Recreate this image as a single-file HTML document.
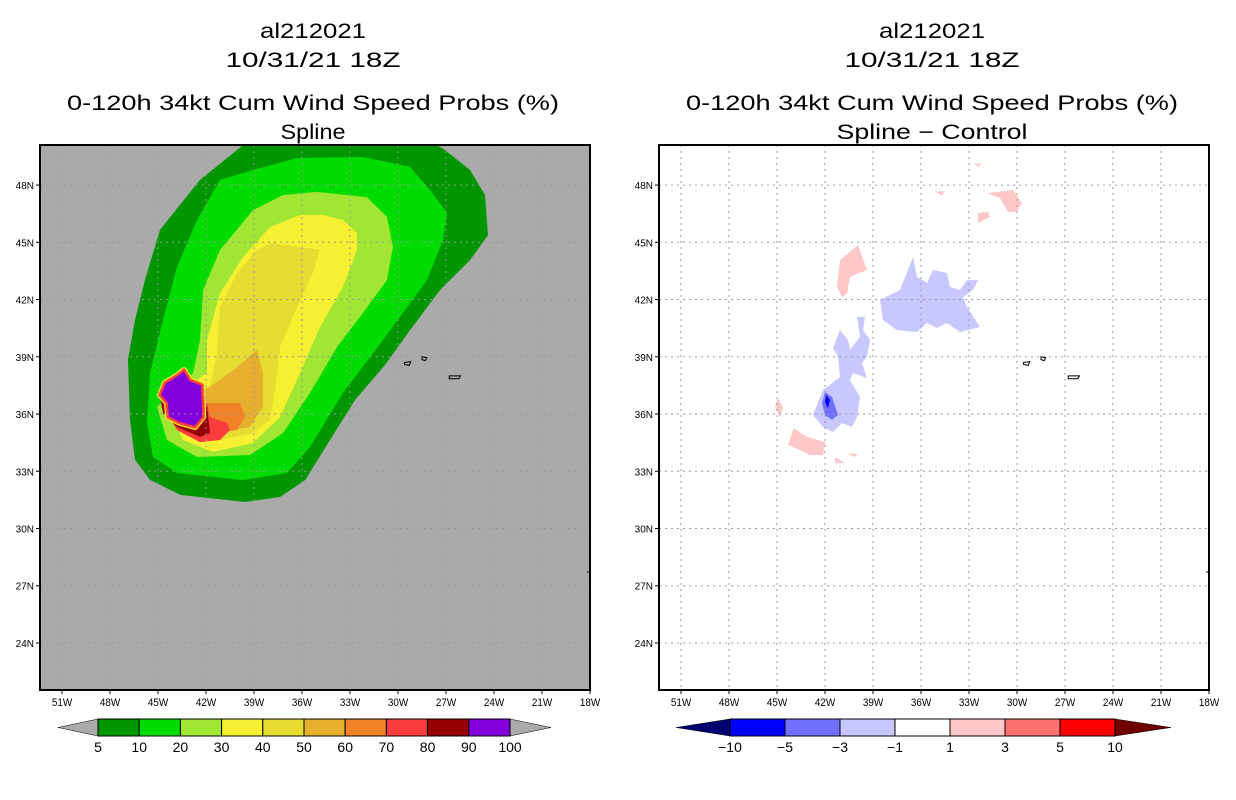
<!DOCTYPE html>
<html><head><meta charset="utf-8"><style>
html,body{margin:0;padding:0;background:#fff;}
svg{display:block;font-family:"Liberation Sans",sans-serif;}
</style></head><body>
<svg id="fig" width="1236" height="800" viewBox="0 0 1236 800"></svg>
<script>
// ---- data ----
const lonTicks = [-51,-48,-45,-42,-39,-36,-33,-30,-27,-24,-21,-18];
const lonLabels = ["51W","48W","45W","42W","39W","36W","33W","30W","27W","24W","21W","18W"];
const latTicks = [24,27,30,33,36,39,42,45,48];
const latLabels = ["24N","27N","30N","33N","36N","39N","42N","45N","48N"];
const probLevels = ["5","10","20","30","40","50","60","70","80","90","100"];
const probColors = ["#009600","#00dc00","#a0e632","#f5f032","#e6dc32","#e6af2d","#f08228","#fa3c3c","#960000","#8200dc"];
const diffLevels = ["-10","-5","-3","-1","1","3","5","10"];
const diffColors = ["#0000ff","#7070ff","#c8c8ff","#ffffff","#ffc8c8","#ff7070","#ff0000"];
const p5 = [[-38.94,50.6],[-42.375,48.27],[-44.875,45.65],[-45.81,43.03],[-46.44,40.93],[-46.875,38.84],[-46.75,35.69],[-46.44,33.6],[-45.5,32.55],[-43.6,31.76],[-39.56,31.39],[-37.375,31.65],[-35.8,32.54],[-34.25,34.64],[-32.69,36.74],[-30.81,38.57],[-29.25,40.4],[-27.375,42.5],[-25.5,44.07],[-24.375,45.38],[-24.56,47.48],[-25.5,48.79],[-27.06,49.84],[-28.625,50.6]];
const p10 = [[-39.06,48.79],[-36.31,49.42],[-32.19,49.47],[-29.25,48.95],[-28.0,47.74],[-26.94,46.54],[-27.19,45.12],[-28.19,43.02],[-30.94,39.88],[-33.44,37.1],[-35.5,34.27],[-36.94,32.91],[-39.69,32.54],[-43.81,32.91],[-45.31,33.75],[-45.69,35.53],[-45.5,38.15],[-44.69,40.93],[-43.81,43.71],[-42.56,46.17],[-41.125,48.27]];
const p20 = [[-39.06,46.69],[-41.125,44.6],[-42.19,42.5],[-42.375,39.88],[-42.81,38.15],[-45.06,36.37],[-44.44,34.64],[-42.56,33.75],[-39.25,33.85],[-37.19,35.0],[-35.5,37.1],[-33.81,39.51],[-32.19,41.3],[-30.69,43.02],[-30.31,44.75],[-30.69,46.33],[-31.94,47.37],[-35.06,47.64],[-37.19,47.48]];
const p30 = [[-36.125,46.43],[-38.0,45.8],[-39.69,44.23],[-41.125,42.34],[-41.94,39.88],[-41.94,38.15],[-42.81,37.63],[-44.25,36.05],[-43.44,34.64],[-41.56,34.01],[-39.06,34.48],[-37.375,35.84],[-36.125,38.15],[-34.875,40.56],[-33.44,42.66],[-32.56,44.6],[-32.56,45.49],[-33.44,46.17],[-34.69,46.43]];
const p40 = [[-37.94,44.96],[-34.875,44.6],[-35.31,43.39],[-36.31,41.61],[-37.375,39.51],[-37.69,37.26],[-38.0,35.69],[-39.06,35.0],[-41.125,34.64],[-43.44,35.32],[-44.25,36.58],[-41.75,37.42],[-41.31,39.2],[-41.125,41.61],[-40.06,43.39],[-38.81,44.6]];
const p50 = [[-38.81,39.36],[-38.44,38.15],[-38.44,36.37],[-39.25,35.32],[-41.75,35.0],[-43.81,35.84],[-43.81,36.74],[-41.75,37.42],[-40.06,38.46]];
const p60 = [[-41.75,36.58],[-39.875,36.58],[-39.56,35.84],[-40.06,35.16],[-41.94,35.0],[-43.81,35.69],[-44.06,36.37]];
const p70 = [[-41.75,35.84],[-40.69,35.53],[-40.5,35.16],[-41.125,34.64],[-42.375,34.53],[-43.81,35.16],[-44.44,36.05],[-41.94,36.58]];
const p80 = [[-44.875,36.89],[-41.94,36.37],[-41.75,35.0],[-42.375,34.8],[-43.81,35.32],[-44.69,36.05]];
const p90 = [[-44.875,37.0],[-44.56,37.63],[-43.75,38.05],[-43.375,38.31],[-43.0,37.78],[-42.25,37.52],[-42.19,36.37],[-42.19,35.84],[-42.69,35.32],[-43.625,35.53],[-44.375,35.84],[-44.44,36.58]];
const dBlueA = [[-38.56,41.98],[-37.31,42.5],[-36.5,44.23],[-36.25,43.18],[-35.625,42.87],[-35.25,43.55],[-34.375,43.39],[-34.19,42.66],[-33.56,42.5],[-33.125,43.02],[-32.44,43.02],[-32.75,42.5],[-33.375,42.13],[-33.125,41.61],[-32.31,40.56],[-33.56,40.3],[-34.375,40.77],[-35.0,40.51],[-35.625,40.77],[-36.25,40.3],[-37.5,40.4],[-38.375,40.93]];
const dBlueB = [[-41.06,40.4],[-40.56,39.88],[-40.44,39.36],[-39.81,40.04],[-40.0,41.09],[-39.5,41.09],[-39.625,40.4],[-39.19,39.88],[-39.375,39.0],[-39.69,38.67],[-39.375,37.89],[-40.25,38.15],[-40.44,37.78],[-39.81,36.89],[-40.0,35.84],[-40.31,35.32],[-40.94,35.53],[-41.5,35.06],[-42.125,35.32],[-42.75,35.95],[-42.125,37.26],[-41.06,37.94],[-41.19,38.99],[-41.5,39.46]];
const dBlueMid = [[-42.0,37.16],[-41.56,36.89],[-41.19,35.95],[-41.56,35.69],[-42.0,35.95],[-42.19,36.58]];
const dBlueDark = [[-41.94,37.0],[-41.69,36.74],[-41.81,36.32],[-42.0,36.58]];
const dPink1 = [[-41.06,44.07],[-39.94,44.86],[-39.375,43.55],[-40.44,43.18],[-40.625,42.34],[-40.94,42.13],[-41.25,42.66]];
const dPink2 = [[-31.875,47.58],[-30.25,47.74],[-29.69,47.06],[-30.0,46.59],[-30.56,46.59],[-31.06,47.32]];
const dPink3 = [[-32.44,46.54],[-31.81,46.59],[-31.69,46.33],[-32.44,46.01]];
const dPink4 = [[-43.97,35.27],[-43.125,34.8],[-42.0,34.53],[-42.125,33.85],[-42.94,33.85],[-43.56,34.11],[-44.31,34.38]];
const dPink5 = [[-44.94,36.84],[-44.625,36.37],[-44.81,35.84],[-45.125,36.37]];
const dPink6 = [[-41.375,33.75],[-40.75,33.43],[-41.375,33.43]];
const dPink7 = [[-40.6,33.95],[-39.9,33.9],[-40.2,33.75]];
const dPink8 = [[-35.1,47.65],[-34.5,47.7],[-34.7,47.45]];
const dPink9 = [[-32.7,49.1],[-32.2,49.15],[-32.4,48.95]];
const islands = [[[-29.6,38.7],[-29.2,38.75],[-29.3,38.55],[-29.6,38.6]],[[-28.5,39.0],[-28.2,38.95],[-28.3,38.8],[-28.5,38.85]],[[-26.8,38.0],[-26.1,38.0],[-26.2,37.85],[-26.8,37.85]]];

// ---- drawing ----
const NS='http://www.w3.org/2000/svg';
const svg=document.getElementById('fig');
const lonMin=-52.375, latMax=50.1, W=550, H=545, TOP=145;
function mk(tag,attrs,parent){const e=document.createElementNS(NS,tag);for(const k in attrs)e.setAttribute(k,attrs[k]);(parent||svg).appendChild(e);return e;}
function xs(x0){return lon=>x0+(lon-lonMin)*16;}
function ys(lat){return TOP+(latMax-lat)*19.08;}
function pts(arr,X){return arr.map(p=>X(p[0]).toFixed(1)+','+ys(p[1]).toFixed(1)).join(' ');}
function text(str,x,y,size,anchor,parent){const t=mk('text',{x:x,y:y,'font-size':size,'text-anchor':anchor||'middle',fill:'#000'},parent);t.textContent=str;return t;}
function title(str,x,y,len,parent){const t=mk('text',{x:x,y:y,'font-size':21,'text-anchor':'middle',fill:'#000',textLength:len,lengthAdjust:'spacingAndGlyphs'},parent);t.textContent=str;return t;}

function panel(x0,bg,id,titleLast,lastLen){
  const X=xs(x0);
  const g=mk('g',{});
  
  
  const cx=x0+W/2-2;
  const t1=title('al212021',cx,38,106,g);
  const t2=title('10/31/21 18Z',cx,67,175,g);
  const t3=title('0-120h 34kt Cum Wind Speed Probs (%)',cx,110,492,g);
  const t4=title(titleLast,cx,139,lastLen,g);
  const cp=mk('clipPath',{id:'clip-'+id},g);mk('rect',{x:x0,y:TOP,width:W,height:H},cp);
  const bgR=mk('rect',{x:x0,y:TOP,width:W,height:H,fill:bg},g);
  
  const plot=mk('g',{'clip-path':'url(#clip-'+id+')'},g);
  
  return {X,g,plot};
}
function poly(arr,fill,P,name,extra){const e=mk('polygon',Object.assign({points:pts(arr,P.X),fill:fill},extra||{}),P.plot);return e;}
function grid(P,x0){
  lonTicks.forEach(l=>{const x=P.X(l);if(x<x0+W-1){const e=mk('line',{x1:x,x2:x,y1:TOP,y2:TOP+H,stroke:'#999','stroke-width':1,'stroke-dasharray':'2,4'},P.plot);}});
  latTicks.forEach(l=>{const y=ys(l);const e=mk('line',{x1:x0,x2:x0+W,y1:y,y2:y,stroke:'#999','stroke-width':1,'stroke-dasharray':'2,4'},P.plot);});
  islands.forEach(is=>{const e=mk('polygon',{points:pts(is,P.X),fill:'none',stroke:'#000','stroke-width':1},P.plot);});
}
function axes(P,x0){
  const fr=mk('rect',{x:x0,y:TOP,width:W,height:H,fill:'none',stroke:'#000','stroke-width':2},P.g);
  
  lonTicks.forEach((l,i)=>{const x=P.X(l);mk('line',{x1:x,x2:x,y1:TOP+H,y2:TOP+H+4,stroke:'#000'},P.g);
    const t=text(lonLabels[i],x,TOP+H+16,11,'middle',P.g);t.setAttribute('transform','translate('+x+',0) scale(0.9,1) translate('+(-x)+',0)');});
  latTicks.forEach((l,i)=>{const y=ys(l);mk('line',{x1:x0-4,x2:x0,y1:y,y2:y,stroke:'#000'},P.g);
    const t=text(latLabels[i],x0-6,y+4,10,'end',P.g);});
  mk('line',{x1:x0+W-3,x2:x0+W,y1:572,y2:572,stroke:'#000'},P.g);
}
function colorbar(x1,x2,tipL,tipR,colors,labels,leftTip,rightTip,name){
  const g=mk('g',{});
  const y1=719,y2=736,ym=(y1+y2)/2,n=colors.length,w=(x2-x1)/n;
  const a=mk('polygon',{points:`${tipL},${ym} ${x1},${y1} ${x1},${y2}`,fill:leftTip,stroke:'#000','stroke-width':0.5},g);
  const b=mk('polygon',{points:`${tipR},${ym} ${x2},${y1} ${x2},${y2}`,fill:rightTip,stroke:'#000','stroke-width':0.5},g);
  colors.forEach((c,i)=>{const r=mk('rect',{x:x1+i*w,y:y1,width:w,height:y2-y1,fill:c,stroke:'#000','stroke-width':1},g);});
  labels.forEach((l,i)=>{const t=text(l.replace('-','\u2212'),x1+i*w,752,14,'middle',g);});
}

// Left panel
const L=panel(40,'#aaaaaa','spline','Spline',65);
[p5,p10,p20,p30,p40,p50,p60,p70,p80].forEach((p,i)=>poly(p,probColors[i],L,'prob-contour-'+probLevels[i]));
poly(p90,'#8200dc',L,'prob-rim-yellow',{stroke:'#f5f032','stroke-width':6,'stroke-linejoin':'round'});
poly(p90,'#8200dc',L,'prob-rim-orange',{stroke:'#f08228','stroke-width':4,'stroke-linejoin':'round'});
poly(p90,'#8200dc',L,'prob-contour-90',{stroke:'#fa3c3c','stroke-width':2,'stroke-linejoin':'round'});
grid(L,40);axes(L,40);
colorbar(98,510,58,551,probColors,probLevels,'#aaaaaa','#aaaaaa','probability-colorbar');

// Right panel
const R=panel(659,'#ffffff','diff','Spline \u2212 Control',191);
poly(dBlueA,'#c8c8ff',R,'diff-blob-minus3');
poly(dBlueB,'#c8c8ff',R,'diff-blob-minus3');
poly(dBlueMid,'#7070ff',R,'diff-blob-minus5');
poly(dBlueDark,'#0000ff',R,'diff-blob-minus10');
[dPink1,dPink2,dPink3,dPink4,dPink5,dPink6,dPink7,dPink8,dPink9].forEach(p=>poly(p,'#ffc8c8',R,'diff-blob-plus1'));
grid(R,659);axes(R,659);
colorbar(730,1115,676,1171,diffColors,diffLevels,'#000070','#700000','difference-colorbar');
</script>
</body></html>
